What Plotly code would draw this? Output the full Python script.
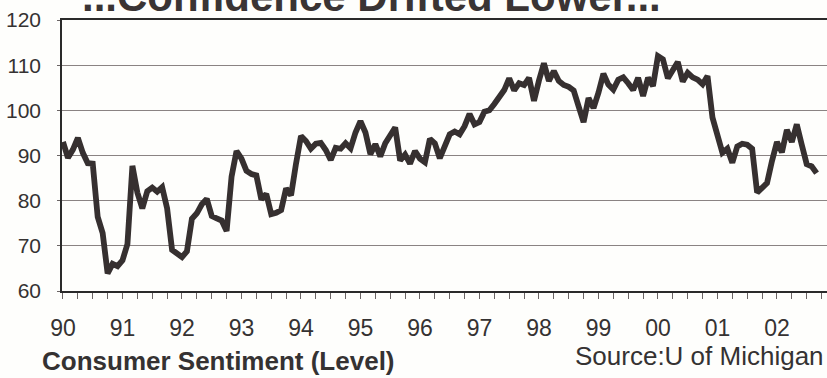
import plotly.graph_objects as go

# University of Michigan consumer sentiment, monthly, Jan 1990 - Sep 2002
s1990 = [93.0, 89.5, 91.3, 93.9, 90.6, 88.3, 88.2, 76.4, 72.8, 63.9, 66.0, 65.5]
s1991 = [66.8, 70.4, 87.7, 81.8, 78.3, 82.1, 82.9, 82.0, 83.0, 78.3, 69.1, 68.2]
s1992 = [67.5, 68.8, 76.0, 77.2, 79.2, 80.4, 76.6, 76.1, 75.6, 73.3, 85.3, 91.0]
s1993 = [89.3, 86.6, 85.9, 85.6, 80.3, 81.5, 77.0, 77.3, 77.9, 82.7, 81.2, 88.2]
s1994 = [94.3, 93.2, 91.5, 92.6, 92.8, 91.2, 89.0, 91.7, 91.5, 92.7, 91.6, 95.1]
s1995 = [97.6, 95.1, 90.3, 92.5, 89.8, 92.7, 94.4, 96.2, 88.9, 90.2, 88.2, 91.0]
s1996 = [89.3, 88.5, 93.7, 92.7, 89.4, 92.4, 94.7, 95.3, 94.7, 96.5, 99.2, 96.9]
s1997 = [97.4, 99.7, 100.0, 101.4, 103.2, 104.5, 107.1, 104.4, 106.0, 105.6, 107.2, 102.1]
s1998 = [106.6, 110.4, 106.5, 108.7, 106.5, 105.6, 105.2, 104.4, 100.9, 97.4, 102.7, 100.5]
s1999 = [103.9, 108.1, 105.7, 104.6, 106.8, 107.3, 106.0, 104.5, 107.2, 103.2, 107.2, 105.4]
s2000 = [112.0, 111.3, 107.1, 109.2, 110.7, 106.4, 108.3, 107.3, 106.8, 105.8, 107.6, 98.4]
s2001 = [94.7, 90.6, 91.5, 88.4, 92.0, 92.6, 92.4, 91.5, 81.8, 82.7, 83.9, 88.8]
s2002 = [93.0, 90.7, 95.7, 93.0, 96.9, 92.4, 88.1, 87.6, 86.1]

year_labels = ["90", "91", "92", "93", "94", "95", "96", "97", "98", "99", "00", "01", "02"]
y_ticks = [60, 70, 80, 90, 100, 110, 120]

sentiment = (s1990 + s1991 + s1992 + s1993 + s1994 + s1995 + s1996
             + s1997 + s1998 + s1999 + s2000 + s2001 + s2002)
months = list(range(len(sentiment)))          # months since Jan 1990
year_starts = [12 * i for i in range(len(year_labels))]

FONT = "Liberation Sans, Arial, sans-serif"
INK = "#353232"
GRID = "#8a8383"

W, H = 827, 378
L, R, T, B = 62, 0, 20, 86.5
plot_w = W - L - R
plot_h = H - T - B


def px_x(p):
    return (p - L) / plot_w


def px_y(p):
    return (H - B - p) / plot_h


fig = go.Figure()
fig.add_trace(go.Scatter(
    x=months, y=sentiment, mode="lines",
    line=dict(color="#363030", width=5.8, shape="linear"),
    hoverinfo="skip", showlegend=False,
))

fig.update_layout(
    width=W, height=H,
    margin=dict(l=L, r=R, t=T, b=B, pad=0),
    paper_bgcolor="#fefefc", plot_bgcolor="#fefefc",
    font=dict(family=FONT, color=INK),
    xaxis=dict(
        range=[-0.2, -0.2 + plot_w / 4.958],
        tickmode="array", tickvals=year_starts, ticktext=year_labels,
        ticks="outside", ticklen=6, tickwidth=1, tickcolor="#6a6464",
        minor=dict(tickmode="linear", tick0=0, dtick=3, ticks="outside",
                   ticklen=6, tickwidth=1, tickcolor="#6a6464", showgrid=False),
        showgrid=False, zeroline=False,
        showline=True, linecolor="#2a2a2a", linewidth=2, mirror=True,
        tickfont=dict(size=23, family=FONT, color=INK),
        ticklabelstandoff=9,
    ),
    yaxis=dict(
        range=[60, 120], tickmode="array", tickvals=y_ticks,
        ticks="outside", ticklen=3, tickcolor="#6a6464",
        showgrid=True, gridcolor=GRID, gridwidth=1.3,
        zeroline=False, showline=True, linecolor="#2a2a2a", linewidth=1.5,
        tickfont=dict(size=21, family=FONT, color=INK),
        ticklabelstandoff=12,
    ),
)

fig.add_annotation(
    text="<b>...Confidence Drifted Lower...</b>",
    xref="paper", yref="paper", x=px_x(80), y=px_y(22),
    xanchor="left", yanchor="bottom", showarrow=False,
    font=dict(size=42, family=FONT, color="#3a3434"),
)
fig.add_annotation(
    text="<b>Consumer Sentiment (Level)</b>",
    xref="paper", yref="paper", x=px_x(40), y=px_y(362),
    xanchor="left", yanchor="middle", showarrow=False,
    font=dict(size=26, family=FONT, color=INK),
)
fig.add_annotation(
    text="Source:U of Michigan",
    xref="paper", yref="paper", x=px_x(573), y=px_y(357),
    xanchor="left", yanchor="middle", showarrow=False,
    font=dict(size=26, family=FONT, color=INK),
)

fig.write_html("out.html")
